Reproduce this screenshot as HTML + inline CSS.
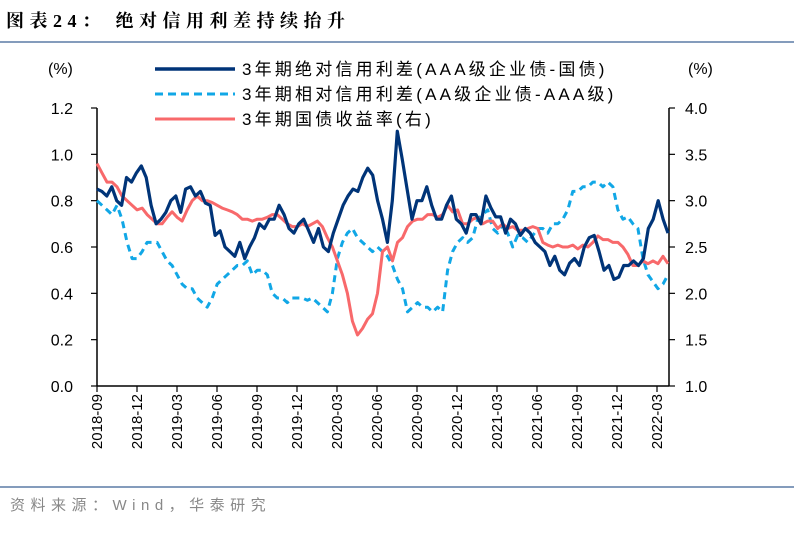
<!DOCTYPE html>
<html><head><meta charset="utf-8"><style>
body{margin:0;background:#fff;font-family:"Liberation Sans","Noto Sans CJK SC",sans-serif;}
svg text{font-family:"Liberation Sans","Noto Sans CJK SC",sans-serif;}
</style></head><body>
<svg id="c" width="794" height="534" xmlns="http://www.w3.org/2000/svg">
<text x="6" y="27" font-size="18" font-weight="bold" fill="#000" letter-spacing="5.5" style="font-family:'Liberation Serif','Noto Serif CJK SC',serif">图表24：  绝对信用利差持续抬升</text>
<line x1="0" y1="42" x2="794" y2="42" stroke="#5b7ba6" stroke-width="1.5"/>
<line x1="0" y1="487" x2="794" y2="487" stroke="#5b7ba6" stroke-width="1.5"/>
<text x="10" y="510" font-size="15" fill="#888" letter-spacing="5.5">资料来源：Wind，华泰研究</text>
<text x="48" y="74" font-size="16">(%)</text>
<text x="688" y="74" font-size="16">(%)</text>
<g id="axes"></g><g id="series"></g>
<g font-size="17" letter-spacing="3.2">
<line x1="155" y1="69" x2="235" y2="69" stroke="#003478" stroke-width="3.5"/>
<text x="242" y="75">3年期绝对信用利差(AAA级企业债-国债)</text>
<line x1="155" y1="94" x2="235" y2="94" stroke="#11a7e6" stroke-width="3" stroke-dasharray="8,5"/>
<text x="242" y="100">3年期相对信用利差(AA级企业债-AAA级)</text>
<line x1="155" y1="119" x2="235" y2="119" stroke="#f8696b" stroke-width="3"/>
<text x="242" y="125">3年期国债收益率(右)</text>
</g>
</svg>
<script>
const xLabels=["2018-09","2018-12","2019-03","2019-06","2019-09","2019-12","2020-03","2020-06","2020-09","2020-12","2021-03","2021-06","2021-09","2021-12","2022-03"];
const leftTicks=[0.0,0.2,0.4,0.6,0.8,1.0,1.2];
const rightTicks=[1.0,1.5,2.0,2.5,3.0,3.5,4.0];
const absSpread=[0.85,0.84,0.82,0.86,0.80,0.78,0.90,0.88,0.92,0.95,0.90,0.78,0.70,0.72,0.75,0.80,0.82,0.75,0.85,0.86,0.82,0.84,0.79,0.78,0.65,0.67,0.60,0.58,0.56,0.62,0.55,0.60,0.64,0.70,0.68,0.72,0.72,0.78,0.74,0.68,0.66,0.70,0.72,0.67,0.62,0.68,0.60,0.58,0.66,0.72,0.78,0.82,0.85,0.84,0.90,0.94,0.91,0.80,0.72,0.62,0.80,1.10,0.98,0.85,0.72,0.80,0.80,0.86,0.78,0.72,0.72,0.78,0.82,0.72,0.70,0.66,0.74,0.74,0.70,0.82,0.77,0.73,0.73,0.66,0.72,0.70,0.65,0.68,0.66,0.62,0.60,0.58,0.52,0.56,0.50,0.48,0.53,0.55,0.52,0.60,0.64,0.65,0.58,0.50,0.52,0.46,0.47,0.52,0.52,0.54,0.52,0.55,0.68,0.72,0.80,0.72,0.66];
const relSpread=[0.80,0.78,0.76,0.74,0.78,0.72,0.62,0.55,0.55,0.58,0.62,0.62,0.62,0.58,0.54,0.52,0.48,0.44,0.42,0.42,0.38,0.36,0.34,0.38,0.44,0.46,0.48,0.50,0.52,0.52,0.54,0.48,0.50,0.50,0.48,0.40,0.38,0.38,0.36,0.38,0.38,0.38,0.37,0.38,0.36,0.34,0.32,0.40,0.55,0.62,0.66,0.68,0.64,0.62,0.60,0.58,0.60,0.58,0.56,0.52,0.46,0.42,0.32,0.34,0.36,0.34,0.34,0.32,0.34,0.32,0.50,0.58,0.62,0.64,0.62,0.64,0.72,0.74,0.76,0.68,0.66,0.70,0.66,0.60,0.65,0.64,0.62,0.65,0.68,0.68,0.66,0.70,0.70,0.72,0.76,0.84,0.84,0.86,0.86,0.88,0.88,0.86,0.88,0.86,0.76,0.72,0.73,0.70,0.68,0.55,0.48,0.45,0.42,0.44,0.48];
const govYield=[3.40,3.30,3.20,3.20,3.15,3.05,3.00,2.95,2.90,2.92,2.85,2.80,2.75,2.75,2.82,2.88,2.82,2.78,2.90,3.00,3.05,3.00,3.00,2.98,2.95,2.92,2.90,2.88,2.85,2.80,2.80,2.78,2.80,2.80,2.82,2.85,2.85,2.80,2.75,2.72,2.72,2.75,2.72,2.75,2.78,2.72,2.60,2.50,2.35,2.20,2.00,1.70,1.55,1.62,1.72,1.78,2.00,2.45,2.50,2.35,2.55,2.60,2.72,2.78,2.80,2.80,2.85,2.85,2.82,2.85,2.95,2.88,2.90,2.75,2.75,2.80,2.82,2.75,2.78,2.78,2.70,2.75,2.70,2.72,2.68,2.68,2.70,2.72,2.70,2.55,2.52,2.50,2.52,2.50,2.50,2.52,2.48,2.52,2.50,2.55,2.62,2.58,2.58,2.55,2.55,2.50,2.42,2.30,2.30,2.35,2.32,2.35,2.32,2.40,2.32];
const X0=97,X1=669,Y0=386,Y1=108;
const yL=v=>Y0-(v-0)/(1.2-0)*(Y0-Y1);
const yR=v=>Y0-(v-1)/(4-1)*(Y0-Y1);
const xI=(i,n)=>X0+i*((X1-1-X0)/(n-1));
const xT=k=>X0+k*40;
const NS="http://www.w3.org/2000/svg";
const ax=document.getElementById('axes'),se=document.getElementById('series');
function mk(t,a,p){const e=document.createElementNS(NS,t);for(const k in a)e.setAttribute(k,a[k]);p.appendChild(e);return e;}
let e=mk('line',{x1:X0,y1:Y1,x2:X0,y2:Y0,stroke:'#000','stroke-width':1.5},ax);


e=mk('line',{x1:X1,y1:Y1,x2:X1,y2:Y0,stroke:'#000','stroke-width':1.5},ax);


e=mk('line',{x1:X0,y1:Y0,x2:X1,y2:Y0,stroke:'#000','stroke-width':1.5},ax);


leftTicks.forEach(v=>{const y=yL(v);
mk('line',{x1:X0-6,y1:y,x2:X0,y2:y,stroke:'#000','stroke-width':1.2},ax);
const t=mk('text',{x:X0-24,y:y+6,'font-size':16,'text-anchor':'end'},ax);t.textContent=v.toFixed(1);

});
rightTicks.forEach(v=>{const y=yR(v);
mk('line',{x1:X1,y1:y,x2:X1+6,y2:y,stroke:'#000','stroke-width':1.2},ax);
const t=mk('text',{x:X1+16,y:y+6,'font-size':16},ax);t.textContent=v.toFixed(1);

});
xLabels.forEach((l,k)=>{const x=xT(k);
mk('line',{x1:x,y1:Y0,x2:x,y2:Y0+6,stroke:'#000','stroke-width':1.2},ax);
const t=mk('text',{x:0,y:0,'font-size':15,'text-anchor':'end',transform:`translate(${x+5},${Y0+8}) rotate(-90)`},ax);t.textContent=l;

});
function line(arr,ys,col,w,dash,name){const n=arr.length;
const d=arr.map((v,i)=>(i?'L':'M')+xI(i,n).toFixed(1)+','+ys(v).toFixed(1)).join('');
const p=mk('path',{d,fill:'none',stroke:col,'stroke-width':w,'stroke-linejoin':'round'},se);
if(dash)p.setAttribute('stroke-dasharray',dash);

}
line(relSpread,yL,'#11a7e6',3,'7,5','relative-spread-line');
line(govYield,yR,'#f8696b',3,null,'gov-yield-line');
line(absSpread,yL,'#003478',3.2,null,'absolute-spread-line');
</script>
</body></html>
